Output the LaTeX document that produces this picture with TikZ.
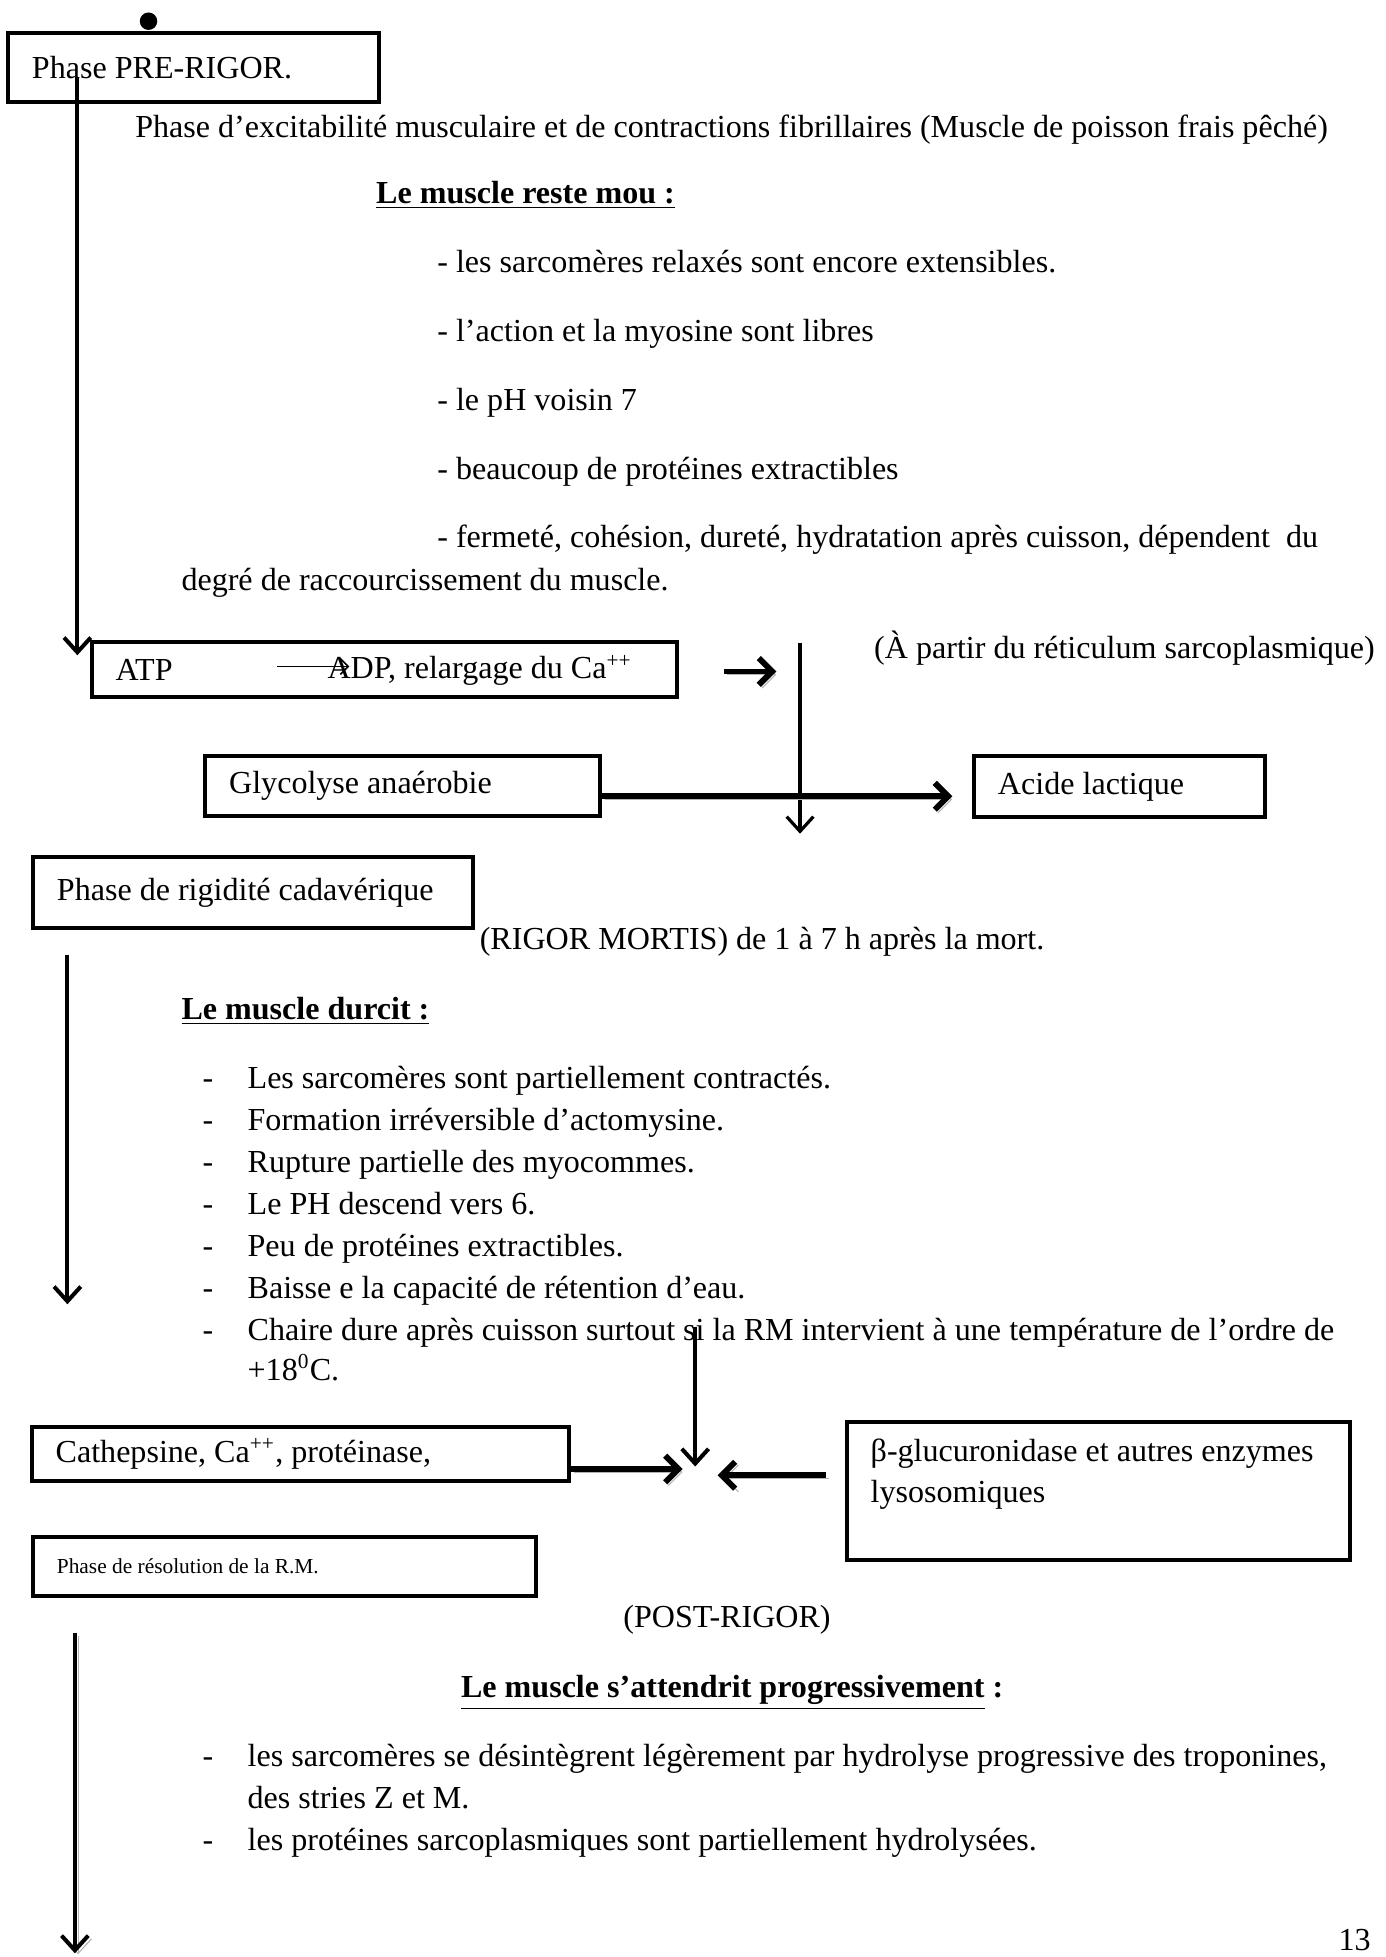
\documentclass[tikz,border=0pt]{standalone}
\usepackage{fontspec}
\setmainfont{Liberation Serif}
\usetikzlibrary{arrows.meta}
\def\unitpx{0.467pt}

\begin{document}
\begin{tikzpicture}[x=\unitpx, y=-\unitpx,
    texte/.style={anchor=base west, inner sep=0pt, font=\fontsize{12}{15.4}\selectfont},
    boite/.style 2 args={draw, line width=1.5pt, anchor=north west, inner ysep=0pt,
      inner xsep=19*\unitpx, text width=(#1-38)*\unitpx, minimum height=#2*\unitpx,
      align=flush left, font=\fontsize{12}{15.4}\selectfont},
    fleche/.style={line width=1.5pt, -{Straight Barb[length=5.5pt, width=10pt]}},
    epaisse/.style={line width=2.2pt, -{Straight Barb[length=5pt, width=10pt]}},
    ombre/.style={preaction={draw=black!30, transform canvas={shift={(1.2pt,-1.2pt)}}}},
  ]
    \useasboundingbox (0,0) rectangle (1110,1568);

    % Phase pre-rigor
    \node[boite={297}{55}] (pre) at (5,25) {Phase PRE-RIGOR.};
    \node[circle, fill, inner sep=0pt, minimum size=14*\unitpx] (point) at (119,17) {};
    \node[texte] (excit) at (108,110) {Phase d’excitabilité musculaire et de contractions fibrillaires (Muscle de poisson frais pêché)};
    \node[texte, font=\fontsize{12}{15.4}\selectfont\bfseries] (mou) at (301,163) {\underline{Le muscle reste mou :}};
    \foreach \t [count=\i] in {
      {- les sarcomères relaxés sont encore extensibles.},
      {- l’action et la myosine sont libres},
      {- le pH voisin 7},
      {- beaucoup de protéines extractibles},
      {- fermeté, cohésion, dureté, hydratation après cuisson, dépendent \ du}} {
        \node[texte] (mou\i) at (350,163+55.2*\i) {\t};
      }
    \node[texte] (degre) at (145,473) {degré de raccourcissement du muscle.};

    % ATP et glycolyse
    \node[boite={469}{44}] (atp) at (72,513) {ATP};
    \node[texte] (adp) at (262,544) {ADP, relargage du Ca\textsuperscript{++}};
    \coordinate (atp1) at (222,534);
    \coordinate (atp2) at (280,534);
    \draw[line width=0.6pt, -{Straight Barb[length=3pt, width=6pt]}] (atp1) -- (atp2);
    \node[texte] (reti) at (700,528) {(À partir du réticulum sarcoplasmique)};
    \node[boite={316}{48}] (glyco) at (163,604) {Glycolyse anaérobie};
    \node[boite={233}{49}] (acide) at (779,604) {Acide lactique};

    \coordinate (a1) at (62,62);
    \coordinate (a2) at (62,525);
    \draw[fleche] (a1) -- (a2);
    \coordinate (c1) at (580,538);
    \coordinate (c2) at (622,538);
    \draw[epaisse, ombre] (c1) -- (c2);
    \coordinate (v1) at (641,515);
    \coordinate (v2) at (641,668);
    \draw[fleche, line width=1.2pt] (v1) -- (v2);
    \coordinate (g2) at (763,638);
    \draw[epaisse, ombre] (glyco.east |- g2) -- (g2);

    % Rigor mortis
    \node[boite={352}{57}] (rigid) at (25,685) {Phase de rigidité cadavérique};
    \node[texte] (rigor) at (384,761) {(RIGOR MORTIS) de 1 à 7 h après la mort.};
    \node[texte, font=\fontsize{12}{15.4}\selectfont\bfseries] (durcit) at (145,817) {\underline{Le muscle durcit :}};
    \foreach \t [count=\i] in {
      {Les sarcomères sont partiellement contractés.},
      {Formation irréversible d’actomysine.},
      {Rupture partielle des myocommes.},
      {Le PH descend vers 6.},
      {Peu de protéines extractibles.},
      {Baisse e la capacité de rétention d’eau.},
      {Chaire dure après cuisson surtout si la RM intervient à une température de l’ordre de}} {
        \node[texte] (tiret\i) at (162,838.3+33.7*\i) {-};
        \node[texte] (dur\i) at (198,838.3+33.7*\i) {\t};
      }
    \node[texte] (temp) at (198,1106) {+18\textsuperscript{0}C.};
    \coordinate (r1) at (54,765);
    \coordinate (r2) at (54,1045);
    \draw[fleche] (r1) -- (r2);

    % Enzymes
    \node[boite={430}{43}] (cath) at (24,1142) {Cathepsine, Ca\textsuperscript{++}, protéinase,};
    \node[boite={403}{110}] (beta) at (677,1138) {β-glucuronidase et autres enzymes\\lysosomiques\\\mbox{}};
    \coordinate (v3) at (557,1063);
    \coordinate (v4) at (557,1175);
    \draw[fleche] (v3) -- (v4);
    \coordinate (k2) at (547,1177);
    \draw[epaisse, ombre] (cath.east |- k2) -- (k2);
    \coordinate (b1) at (662,1182);
    \coordinate (b2) at (575,1182);
    \draw[epaisse, ombre] (b1) -- (b2);

    % Post-rigor
    \node[boite={403}{47}, font=\fontsize{8}{10}\selectfont] (resol) at (25,1230) {Phase de résolution de la R.M.};
    \node[texte] (post) at (499,1304) {(POST-RIGOR)};
    \node[texte, font=\fontsize{12}{15.4}\selectfont\bfseries] (attend) at (369,1360) {\underline{Le muscle s’attendrit progressivement} :};
    \node[texte] (tiretA) at (162,1415) {-};
    \node[texte] (att1) at (198,1415) {les sarcomères se désintègrent légèrement par hydrolyse progressive des troponines,};
    \node[texte] (att1b) at (198,1449) {des stries Z et M.};
    \node[texte] (tiretB) at (162,1483) {-};
    \node[texte] (att2) at (198,1483) {les protéines sarcoplasmiques sont partiellement hydrolysées.};
    \coordinate (p1) at (60,1308);
    \coordinate (p2) at (60,1565);
    \draw[fleche, ombre] (p1) -- (p2);

    \node[texte] (page) at (1072,1563) {13};
\end{tikzpicture}
\end{document}
